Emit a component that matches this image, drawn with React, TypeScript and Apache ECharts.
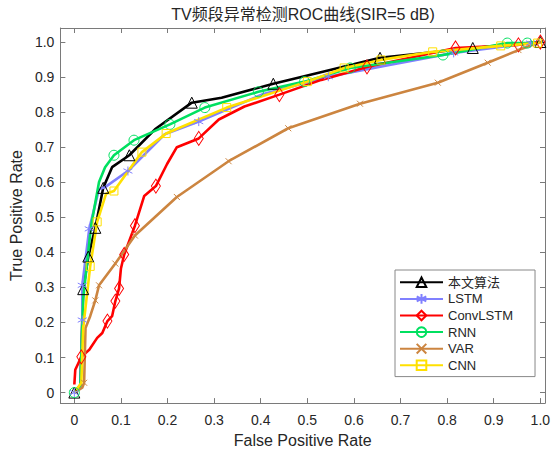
import React, { useEffect, useRef } from "react";
import * as echarts from "echarts";

const seriesNames = ["本文算法", "LSTM", "ConvLSTM", "RNN", "VAR", "CNN"];
const seriesColors = ["#000000", "#8080ff", "#ff0000", "#00e060", "#cc8540", "#ffe000"];

const oursFpr = [0, 0.013, 0.019, 0.030, 0.045, 0.062, 0.081, 0.118, 0.173, 0.252, 0.316, 0.427, 0.551, 0.656, 0.855, 1.0];
const oursTpr = [0, 0.020, 0.295, 0.388, 0.470, 0.584, 0.643, 0.677, 0.751, 0.827, 0.841, 0.881, 0.921, 0.955, 0.983, 1.0];
const oursMark = [1, 0, 1, 1, 1, 1, 0, 1, 0, 1, 0, 1, 0, 1, 1, 1];

const lstmFpr = [0, 0.013, 0.017, 0.017, 0.032, 0.053, 0.066, 0.115, 0.194, 0.267, 0.402, 0.545, 0.679, 0.814, 0.979, 1.0];
const lstmTpr = [0, 0.020, 0.207, 0.306, 0.467, 0.581, 0.586, 0.632, 0.737, 0.773, 0.850, 0.901, 0.935, 0.969, 0.997, 1.0];
const lstmMark = [1, 0, 1, 1, 1, 0, 0, 1, 0, 1, 0, 1, 0, 1, 1, 0];

const convFpr = [0, 0.002, 0.015, 0.032, 0.049, 0.060, 0.071, 0.081, 0.088, 0.096, 0.100, 0.107, 0.130, 0.150, 0.175, 0.199, 0.220, 0.267, 0.310, 0.365, 0.440, 0.530, 0.628, 0.818, 0.953, 1.0];
const convTpr = [0.023, 0.065, 0.102, 0.122, 0.156, 0.170, 0.204, 0.218, 0.261, 0.297, 0.354, 0.394, 0.476, 0.561, 0.589, 0.652, 0.700, 0.725, 0.779, 0.816, 0.850, 0.892, 0.929, 0.983, 0.992, 1.0];
const convMark = [0, 0, 1, 0, 0, 0, 1, 0, 1, 1, 0, 1, 1, 0, 1, 0, 0, 1, 0, 0, 1, 0, 1, 1, 1, 1];

const rnnFpr = [0, 0.013, 0.019, 0.026, 0.036, 0.053, 0.066, 0.085, 0.128, 0.205, 0.280, 0.395, 0.494, 0.592, 0.791, 0.929, 0.972, 1.0];
const rnnTpr = [0, 0.020, 0.269, 0.354, 0.476, 0.601, 0.643, 0.677, 0.720, 0.765, 0.813, 0.858, 0.887, 0.926, 0.963, 0.997, 0.997, 1.0];
const rnnMark = [1, 0, 0, 0, 0, 0, 0, 1, 1, 1, 1, 1, 1, 1, 1, 1, 1, 0];

const varFpr = [0, 0.017, 0.021, 0.024, 0.034, 0.045, 0.053, 0.088, 0.130, 0.220, 0.331, 0.459, 0.613, 0.780, 0.887, 0.953, 1.0];
const varTpr = [0, 0.014, 0.028, 0.184, 0.218, 0.263, 0.306, 0.368, 0.448, 0.558, 0.660, 0.754, 0.824, 0.884, 0.941, 0.977, 1.0];
const varMark = [0, 0, 1, 0, 0, 1, 1, 1, 1, 1, 1, 1, 1, 1, 1, 1, 1];

const cnnFpr = [0, 0.015, 0.019, 0.034, 0.049, 0.068, 0.085, 0.145, 0.197, 0.327, 0.500, 0.579, 0.658, 0.769, 0.915, 0.994, 1.0];
const cnnTpr = [0, 0.028, 0.184, 0.360, 0.487, 0.567, 0.575, 0.686, 0.739, 0.813, 0.887, 0.926, 0.949, 0.972, 0.989, 0.997, 1.0];
const cnnMark = [0, 0, 0, 1, 1, 0, 1, 1, 1, 1, 1, 1, 1, 1, 1, 1, 0];

const xTicks = [0, 0.1, 0.2, 0.3, 0.4, 0.5, 0.6, 0.7, 0.8, 0.9, 1.0];
const yTicks = [0, 0.1, 0.2, 0.3, 0.4, 0.5, 0.6, 0.7, 0.8, 0.9, 1.0];

const ASTERISK = "path://M5,0L5,10M0.7,2.5L9.3,7.5M0.7,7.5L9.3,2.5";
const XMARK = "path://M0,0L10,10M0,10L10,0";

const FONT = '"Liberation Sans", Arial, "Noto Sans CJK SC", sans-serif';
const AXIS_COLOR = "#7a7a7a";
const TEXT_COLOR = "#262626";

export default function App() {
  const ref = useRef<HTMLDivElement>(null);

  useEffect(() => {
    if (!ref.current) return;
    const chart = echarts.init(ref.current, null, { renderer: "svg" });

    const defs = [
      { fpr: oursFpr, tpr: oursTpr, mark: oursMark, symbol: "triangle", size: 11 },
      { fpr: lstmFpr, tpr: lstmTpr, mark: lstmMark, symbol: ASTERISK, size: 9 },
      { fpr: convFpr, tpr: convTpr, mark: convMark, symbol: "diamond", size: [9, 14] },
      { fpr: rnnFpr, tpr: rnnTpr, mark: rnnMark, symbol: "circle", size: 10 },
      { fpr: varFpr, tpr: varTpr, mark: varMark, symbol: XMARK, size: 6 },
      { fpr: cnnFpr, tpr: cnnTpr, mark: cnnMark, symbol: "rect", size: 8 },
    ];

    const series = defs.map((d, i) => ({
      name: seriesNames[i],
      type: "line",
      xAxisIndex: 0,
      yAxisIndex: 0,
      symbol: d.symbol,
      symbolSize: d.size,
      showSymbol: true,
      showAllSymbol: true,
      lineStyle: { color: seriesColors[i], width: 2.6 },
      itemStyle: { color: "none", borderColor: seriesColors[i], borderWidth: 1 },
      emphasis: { disabled: true },
      data: d.fpr.map((x, k) =>
        d.mark[k] ? { value: [x, d.tpr[k]] } : { value: [x, d.tpr[k]], symbol: "none" }
      ),
    }));

    const tickFmt = (v: number) => (Math.abs(v) < 1e-9 ? "0" : v.toFixed(1));

    const baseAxis = {
      type: "value",
      splitLine: { show: false },
      axisLine: { show: true, onZero: false, lineStyle: { color: AXIS_COLOR, width: 1 } },
    };

    chart.setOption({
      animation: false,
      backgroundColor: "#ffffff",
      textStyle: { fontFamily: FONT },
      grid: { left: 58, right: 13, top: 28, bottom: 48, containLabel: false },
      graphic: [
        {
          type: "text",
          x: 303,
          y: 14,
          style: {
            text: "TV频段异常检测ROC曲线(SIR=5 dB)",
            fontSize: 16,
            fontFamily: FONT,
            fill: TEXT_COLOR,
            textAlign: "center",
            textVerticalAlign: "middle",
          },
        },
      ],
      legend: {
        orient: "vertical",
        left: 395,
        top: 270,
        data: seriesNames,
        itemWidth: 43,
        itemHeight: 12,
        itemGap: 2,
        padding: [5, 22, 4, 4],
        borderColor: "#888888",
        borderWidth: 1,
        backgroundColor: "#ffffff",
        textStyle: { fontSize: 13, color: TEXT_COLOR, fontFamily: FONT },
      },
      xAxis: [
        {
          ...baseAxis,
          position: "bottom",
          min: -0.03,
          max: 1.01,
          name: "False Positive Rate",
          nameLocation: "middle",
          nameGap: 27,
          nameTextStyle: { fontSize: 16, color: TEXT_COLOR, fontFamily: FONT },
          axisTick: { show: true, inside: true, length: 5, customValues: xTicks, lineStyle: { color: AXIS_COLOR } },
          axisLabel: { show: true, customValues: xTicks, formatter: tickFmt, fontSize: 14, color: TEXT_COLOR, margin: 10, fontFamily: FONT },
        },
        {
          ...baseAxis,
          position: "top",
          min: -0.03,
          max: 1.01,
          axisTick: { show: true, inside: true, length: 5, customValues: xTicks, lineStyle: { color: AXIS_COLOR } },
          axisLabel: { show: false },
        },
      ],
      yAxis: [
        {
          ...baseAxis,
          position: "left",
          min: -0.03,
          max: 1.04,
          name: "True Positive Rate",
          nameLocation: "middle",
          nameGap: 30,
          nameRotate: 90,
          nameTextStyle: { fontSize: 16, color: TEXT_COLOR, fontFamily: FONT },
          axisTick: { show: true, inside: true, length: 5, customValues: yTicks, lineStyle: { color: AXIS_COLOR } },
          axisLabel: { show: true, customValues: yTicks, formatter: tickFmt, fontSize: 14, color: TEXT_COLOR, margin: 6, fontFamily: FONT },
        },
        {
          ...baseAxis,
          position: "right",
          min: -0.03,
          max: 1.04,
          axisTick: { show: true, inside: true, length: 5, customValues: yTicks, lineStyle: { color: AXIS_COLOR } },
          axisLabel: { show: false },
        },
      ],
      series,
    });

    return () => chart.dispose();
  }, []);

  return (
    <div
      ref={ref}
      style={{ position: "absolute", left: 0, top: 0, width: 558, height: 453, background: "#fff" }}
    />
  );
}
